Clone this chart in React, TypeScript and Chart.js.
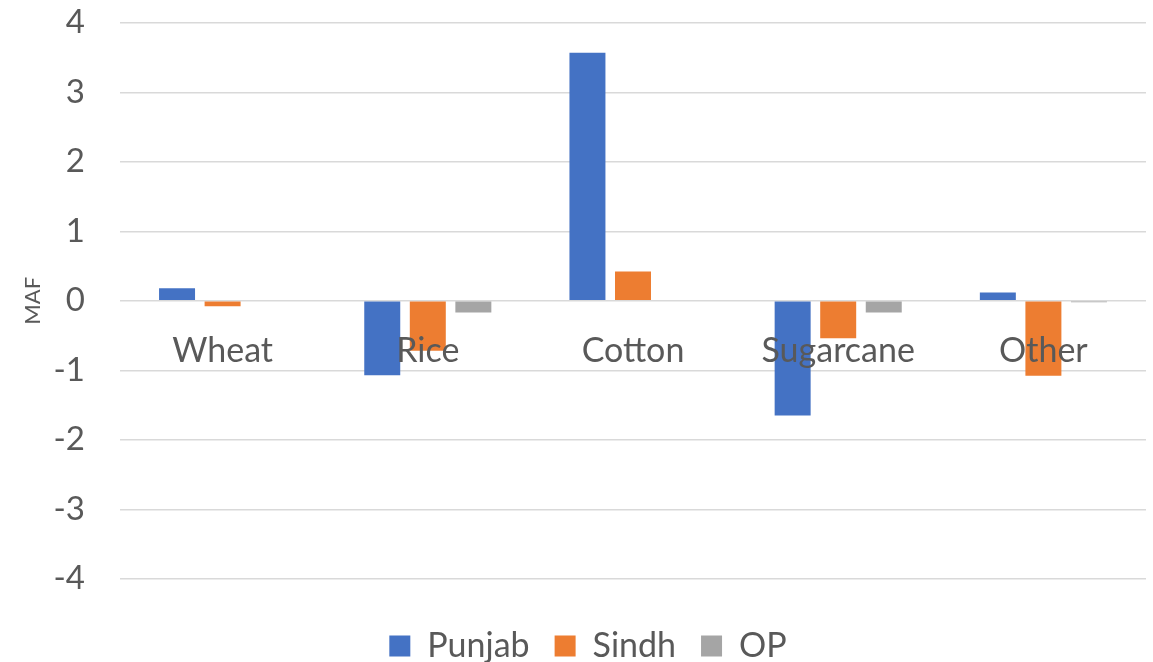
import React, { useEffect, useRef } from "react";
import { Chart, registerables } from "chart.js";

Chart.register(...registerables);

const categories = ["Wheat", "Rice", "Cotton", "Sugarcane", "Other"];
const punjab = [0.18, -1.07, 3.57, -1.65, 0.12];
const sindh = [-0.08, -0.72, 0.42, -0.54, -1.08];
const op = [0, -0.17, 0, -0.17, -0.02];
const yTicks = [-4, -3, -2, -1, 0, 1, 2, 3, 4];

const FONT = "Lato, 'Open Sans', sans-serif";
const TEXT = "#595959";

export default function App() {
  const ref = useRef<HTMLCanvasElement | null>(null);

  useEffect(() => {
    if (!ref.current) return;
    const chart = new Chart(ref.current, {
      type: "bar",
      data: {
        labels: categories,
        datasets: [
          { label: "Punjab", data: punjab, backgroundColor: "#4472C4" },
          { label: "Sindh", data: sindh, backgroundColor: "#ED7D31" },
          { label: "OP", data: op, backgroundColor: "#A5A5A5" },
        ],
      },
      options: {
        animation: false,
        responsive: false,
        maintainAspectRatio: false,
        datasets: {
          bar: { categoryPercentage: 0.666, barPercentage: 0.79 },
        },
        layout: { padding: { left: 30, right: 7, top: 22, bottom: -11 } },
        plugins: {
          tooltip: { enabled: false },
          legend: {
            position: "bottom",
            title: { display: true, text: "", font: { size: 1 }, padding: { top: 24, bottom: 0 } },
            labels: {
              font: { family: FONT, size: 34 },
              color: TEXT,
              boxWidth: 21,
              boxHeight: 21,
              padding: 25,
            },
          },
        },
        scales: {
          x: {
            position: { y: 0 } as any,
            grid: { display: false, drawTicks: false },
            border: { display: false },
            ticks: {
              z: 1,
              font: { family: FONT, size: 34 },
              color: TEXT,
              padding: 30,
              maxRotation: 0,
              autoSkip: false,
            },
          },
          y: {
            min: -4,
            max: 4,
            afterFit: (s: any) => {
              s.width = 90;
            },
            afterBuildTicks: (s: any) => {
              s.ticks = yTicks.map((v) => ({ value: v }));
            },
            grid: {
              color: "#D9D9D9",
              lineWidth: 1.5,
              drawTicks: true,
              tickLength: 32,
              tickColor: "rgba(0,0,0,0)",
            },
            border: { display: false },
            ticks: {
              font: { family: FONT, size: 33 },
              color: TEXT,
              padding: 3,
            },
            title: {
              display: true,
              text: "MAF",
              font: { family: FONT, size: 22 },
              color: TEXT,
              padding: { top: -10, bottom: 0 },
            },
          },
        },
      },
    });
    return () => chart.destroy();
  }, []);

  return (
    <div style={{ position: "fixed", left: 0, top: 0, width: 1153, height: 662, background: "#fff" }}>
      <canvas ref={ref} width={1153} height={662} style={{ display: "block" }} />
    </div>
  );
}
